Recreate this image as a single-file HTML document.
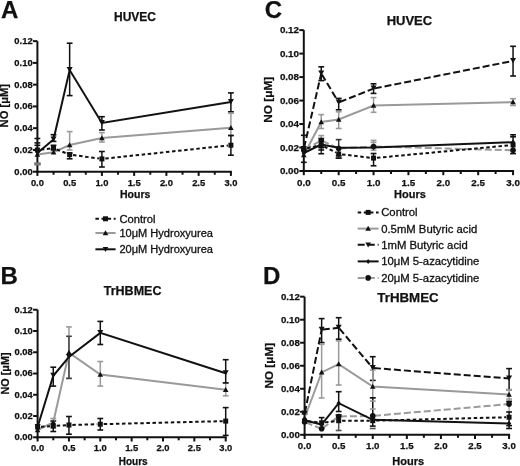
<!DOCTYPE html>
<html><head><meta charset="utf-8"><style>
html,body{margin:0;padding:0;background:#fff;}
body{width:520px;height:466px;overflow:hidden;}
svg{display:block;will-change:transform;}
text{font-family:"Liberation Sans", sans-serif;fill:#111;stroke:#111;stroke-width:0.25px;}
text.r{stroke-width:0.3px;}
</style></head><body>
<svg width="520" height="466" viewBox="0 0 520 466">
<rect width="520" height="466" fill="#fff"/>
<line x1="37.4" y1="41.14" x2="37.4" y2="172.7" stroke="#111" stroke-width="2" stroke-linecap="butt"/>
<line x1="36.4" y1="171.7" x2="231.9" y2="171.7" stroke="#111" stroke-width="2" stroke-linecap="butt"/>
<line x1="32.9" y1="171.7" x2="37.4" y2="171.7" stroke="#111" stroke-width="2" stroke-linecap="butt"/>
<text x="32.6" y="174.61" font-size="9.4" font-weight="bold" text-anchor="end">0.00</text>
<line x1="32.9" y1="149.94" x2="37.4" y2="149.94" stroke="#111" stroke-width="2" stroke-linecap="butt"/>
<text x="32.6" y="152.85" font-size="9.4" font-weight="bold" text-anchor="end">0.02</text>
<line x1="32.9" y1="128.18" x2="37.4" y2="128.18" stroke="#111" stroke-width="2" stroke-linecap="butt"/>
<text x="32.6" y="131.09" font-size="9.4" font-weight="bold" text-anchor="end">0.04</text>
<line x1="32.9" y1="106.42" x2="37.4" y2="106.42" stroke="#111" stroke-width="2" stroke-linecap="butt"/>
<text x="32.6" y="109.33" font-size="9.4" font-weight="bold" text-anchor="end">0.06</text>
<line x1="32.9" y1="84.66" x2="37.4" y2="84.66" stroke="#111" stroke-width="2" stroke-linecap="butt"/>
<text x="32.6" y="87.57" font-size="9.4" font-weight="bold" text-anchor="end">0.08</text>
<line x1="32.9" y1="62.9" x2="37.4" y2="62.9" stroke="#111" stroke-width="2" stroke-linecap="butt"/>
<text x="32.6" y="65.81" font-size="9.4" font-weight="bold" text-anchor="end">0.10</text>
<line x1="32.9" y1="41.14" x2="37.4" y2="41.14" stroke="#111" stroke-width="2" stroke-linecap="butt"/>
<text x="32.6" y="44.05" font-size="9.4" font-weight="bold" text-anchor="end">0.12</text>
<line x1="37.4" y1="171.7" x2="37.4" y2="175.9" stroke="#111" stroke-width="2" stroke-linecap="butt"/>
<text x="37.4" y="186" font-size="9.4" font-weight="bold" text-anchor="middle">0.0</text>
<line x1="53.52" y1="171.7" x2="53.52" y2="174.7" stroke="#111" stroke-width="2" stroke-linecap="butt"/>
<line x1="69.65" y1="171.7" x2="69.65" y2="175.9" stroke="#111" stroke-width="2" stroke-linecap="butt"/>
<text x="69.65" y="186" font-size="9.4" font-weight="bold" text-anchor="middle">0.5</text>
<line x1="85.78" y1="171.7" x2="85.78" y2="174.7" stroke="#111" stroke-width="2" stroke-linecap="butt"/>
<line x1="101.9" y1="171.7" x2="101.9" y2="175.9" stroke="#111" stroke-width="2" stroke-linecap="butt"/>
<text x="101.9" y="186" font-size="9.4" font-weight="bold" text-anchor="middle">1.0</text>
<line x1="118.03" y1="171.7" x2="118.03" y2="174.7" stroke="#111" stroke-width="2" stroke-linecap="butt"/>
<line x1="134.15" y1="171.7" x2="134.15" y2="175.9" stroke="#111" stroke-width="2" stroke-linecap="butt"/>
<text x="134.15" y="186" font-size="9.4" font-weight="bold" text-anchor="middle">1.5</text>
<line x1="150.28" y1="171.7" x2="150.28" y2="174.7" stroke="#111" stroke-width="2" stroke-linecap="butt"/>
<line x1="166.4" y1="171.7" x2="166.4" y2="175.9" stroke="#111" stroke-width="2" stroke-linecap="butt"/>
<text x="166.4" y="186" font-size="9.4" font-weight="bold" text-anchor="middle">2.0</text>
<line x1="182.53" y1="171.7" x2="182.53" y2="174.7" stroke="#111" stroke-width="2" stroke-linecap="butt"/>
<line x1="198.65" y1="171.7" x2="198.65" y2="175.9" stroke="#111" stroke-width="2" stroke-linecap="butt"/>
<text x="198.65" y="186" font-size="9.4" font-weight="bold" text-anchor="middle">2.5</text>
<line x1="214.78" y1="171.7" x2="214.78" y2="174.7" stroke="#111" stroke-width="2" stroke-linecap="butt"/>
<line x1="230.9" y1="171.7" x2="230.9" y2="175.9" stroke="#111" stroke-width="2" stroke-linecap="butt"/>
<text x="230.9" y="186" font-size="9.4" font-weight="bold" text-anchor="middle">3.0</text>
<text x="135.2" y="197.8" font-size="10.5" font-weight="bold" text-anchor="middle">Hours</text>
<text transform="translate(8,105.7) rotate(-90)" font-size="11.2" font-weight="bold" text-anchor="middle">NO [&#956;M]</text>
<text x="135" y="21.2" font-size="12" font-weight="bold" text-anchor="middle">HUVEC</text>
<line x1="69.65" y1="43.2" x2="69.65" y2="95.6" stroke="#111" stroke-width="1.5" stroke-linecap="butt"/>
<line x1="66.75" y1="43.2" x2="72.55" y2="43.2" stroke="#111" stroke-width="1.6" stroke-linecap="butt"/>
<line x1="66.75" y1="95.6" x2="72.55" y2="95.6" stroke="#111" stroke-width="1.6" stroke-linecap="butt"/>
<line x1="101.9" y1="116.7" x2="101.9" y2="130" stroke="#111" stroke-width="1.5" stroke-linecap="butt"/>
<line x1="99" y1="116.7" x2="104.8" y2="116.7" stroke="#111" stroke-width="1.6" stroke-linecap="butt"/>
<line x1="99" y1="130" x2="104.8" y2="130" stroke="#111" stroke-width="1.6" stroke-linecap="butt"/>
<line x1="230.9" y1="92.9" x2="230.9" y2="111.8" stroke="#111" stroke-width="1.5" stroke-linecap="butt"/>
<line x1="228" y1="92.9" x2="233.8" y2="92.9" stroke="#111" stroke-width="1.6" stroke-linecap="butt"/>
<line x1="228" y1="111.8" x2="233.8" y2="111.8" stroke="#111" stroke-width="1.6" stroke-linecap="butt"/>
<line x1="69.65" y1="131.6" x2="69.65" y2="150" stroke="#9a9a9a" stroke-width="1.5" stroke-linecap="butt"/>
<line x1="66.75" y1="131.6" x2="72.55" y2="131.6" stroke="#9a9a9a" stroke-width="1.6" stroke-linecap="butt"/>
<line x1="66.75" y1="150" x2="72.55" y2="150" stroke="#9a9a9a" stroke-width="1.6" stroke-linecap="butt"/>
<line x1="101.9" y1="132.6" x2="101.9" y2="142" stroke="#9a9a9a" stroke-width="1.5" stroke-linecap="butt"/>
<line x1="99" y1="132.6" x2="104.8" y2="132.6" stroke="#9a9a9a" stroke-width="1.6" stroke-linecap="butt"/>
<line x1="99" y1="142" x2="104.8" y2="142" stroke="#9a9a9a" stroke-width="1.6" stroke-linecap="butt"/>
<line x1="230.9" y1="113.3" x2="230.9" y2="135.8" stroke="#9a9a9a" stroke-width="1.5" stroke-linecap="butt"/>
<line x1="228" y1="113.3" x2="233.8" y2="113.3" stroke="#9a9a9a" stroke-width="1.6" stroke-linecap="butt"/>
<line x1="228" y1="135.8" x2="233.8" y2="135.8" stroke="#9a9a9a" stroke-width="1.6" stroke-linecap="butt"/>
<line x1="101.9" y1="151.5" x2="101.9" y2="167" stroke="#111" stroke-width="1.5" stroke-linecap="butt"/>
<line x1="99" y1="151.5" x2="104.8" y2="151.5" stroke="#111" stroke-width="1.6" stroke-linecap="butt"/>
<line x1="99" y1="167" x2="104.8" y2="167" stroke="#111" stroke-width="1.6" stroke-linecap="butt"/>
<line x1="230.9" y1="135.4" x2="230.9" y2="155.2" stroke="#111" stroke-width="1.5" stroke-linecap="butt"/>
<line x1="228" y1="135.4" x2="233.8" y2="135.4" stroke="#111" stroke-width="1.6" stroke-linecap="butt"/>
<line x1="228" y1="155.2" x2="233.8" y2="155.2" stroke="#111" stroke-width="1.6" stroke-linecap="butt"/>
<line x1="69.65" y1="153" x2="69.65" y2="158.8" stroke="#111" stroke-width="1.5" stroke-linecap="butt"/>
<line x1="66.75" y1="153" x2="72.55" y2="153" stroke="#111" stroke-width="1.6" stroke-linecap="butt"/>
<line x1="66.75" y1="158.8" x2="72.55" y2="158.8" stroke="#111" stroke-width="1.6" stroke-linecap="butt"/>
<line x1="53.52" y1="134.7" x2="53.52" y2="141.4" stroke="#111" stroke-width="1.5" stroke-linecap="butt"/>
<line x1="50.62" y1="134.7" x2="56.42" y2="134.7" stroke="#111" stroke-width="1.6" stroke-linecap="butt"/>
<line x1="50.62" y1="141.4" x2="56.42" y2="141.4" stroke="#111" stroke-width="1.6" stroke-linecap="butt"/>
<line x1="53.52" y1="145.3" x2="53.52" y2="149.6" stroke="#111" stroke-width="1.5" stroke-linecap="butt"/>
<line x1="50.62" y1="145.3" x2="56.42" y2="145.3" stroke="#111" stroke-width="1.6" stroke-linecap="butt"/>
<line x1="50.62" y1="149.6" x2="56.42" y2="149.6" stroke="#111" stroke-width="1.6" stroke-linecap="butt"/>
<line x1="34.5" y1="138.5" x2="40.3" y2="138.5" stroke="#111" stroke-width="1.6" stroke-linecap="butt"/>
<line x1="34.5" y1="142.9" x2="40.3" y2="142.9" stroke="#111" stroke-width="1.6" stroke-linecap="butt"/>
<line x1="34.5" y1="145.3" x2="40.3" y2="145.3" stroke="#111" stroke-width="1.6" stroke-linecap="butt"/>
<rect x="34.2" y="162.3" width="6.6" height="3.2" fill="#777"/>
<polyline points="37.4,154.5 53.52,152.2 69.65,145 101.9,138 230.9,127.7" fill="none" stroke="#9a9a9a" stroke-width="2" stroke-linejoin="miter"/>
<polygon points="37.4,151.7 40.2,156.7 34.6,156.7" fill="#111"/>
<polygon points="53.52,149.4 56.32,154.4 50.73,154.4" fill="#111"/>
<polygon points="69.65,142.2 72.45,147.2 66.85,147.2" fill="#111"/>
<polygon points="101.9,135.2 104.7,140.2 99.1,140.2" fill="#111"/>
<polygon points="230.9,124.9 233.7,129.9 228.1,129.9" fill="#111"/>
<line x1="40.78" y1="149.62" x2="50.54" y2="148.53" stroke="#111" stroke-width="2" stroke-linecap="butt" stroke-dasharray="3.5 2.6"/>
<line x1="56.69" y1="149.45" x2="66.86" y2="153.49" stroke="#111" stroke-width="2" stroke-linecap="butt" stroke-dasharray="3.5 2.6"/>
<line x1="73.02" y1="155.05" x2="98.93" y2="158.5" stroke="#111" stroke-width="2" stroke-linecap="butt" stroke-dasharray="3.5 2.6"/>
<line x1="105.28" y1="158.54" x2="227.92" y2="145.52" stroke="#111" stroke-width="2" stroke-linecap="butt" stroke-dasharray="3.5 2.6"/>
<rect x="34.9" y="147.5" width="5" height="5" fill="#111"/>
<rect x="51.02" y="145.7" width="5" height="5" fill="#111"/>
<rect x="67.15" y="152.1" width="5" height="5" fill="#111"/>
<rect x="99.4" y="156.4" width="5" height="5" fill="#111"/>
<rect x="228.4" y="142.7" width="5" height="5" fill="#111"/>
<polyline points="37.4,153 53.52,139.5 69.65,70 101.9,123 230.9,102" fill="none" stroke="#111" stroke-width="2" stroke-linejoin="miter"/>
<polygon points="37.4,155.4 40.4,150 34.4,150" fill="#111"/>
<polygon points="53.52,141.9 56.52,136.5 50.52,136.5" fill="#111"/>
<polygon points="69.65,72.4 72.65,67 66.65,67" fill="#111"/>
<polygon points="101.9,125.4 104.9,120 98.9,120" fill="#111"/>
<polygon points="230.9,104.4 233.9,99 227.9,99" fill="#111"/>
<line x1="37.6" y1="309.74" x2="37.6" y2="438.3" stroke="#111" stroke-width="2" stroke-linecap="butt"/>
<line x1="36.6" y1="437.3" x2="226.7" y2="437.3" stroke="#111" stroke-width="2" stroke-linecap="butt"/>
<line x1="33.1" y1="437.3" x2="37.6" y2="437.3" stroke="#111" stroke-width="2" stroke-linecap="butt"/>
<text x="32.8" y="440.21" font-size="9.4" font-weight="bold" text-anchor="end">0.00</text>
<line x1="33.1" y1="416.04" x2="37.6" y2="416.04" stroke="#111" stroke-width="2" stroke-linecap="butt"/>
<text x="32.8" y="418.95" font-size="9.4" font-weight="bold" text-anchor="end">0.02</text>
<line x1="33.1" y1="394.78" x2="37.6" y2="394.78" stroke="#111" stroke-width="2" stroke-linecap="butt"/>
<text x="32.8" y="397.69" font-size="9.4" font-weight="bold" text-anchor="end">0.04</text>
<line x1="33.1" y1="373.52" x2="37.6" y2="373.52" stroke="#111" stroke-width="2" stroke-linecap="butt"/>
<text x="32.8" y="376.43" font-size="9.4" font-weight="bold" text-anchor="end">0.06</text>
<line x1="33.1" y1="352.26" x2="37.6" y2="352.26" stroke="#111" stroke-width="2" stroke-linecap="butt"/>
<text x="32.8" y="355.17" font-size="9.4" font-weight="bold" text-anchor="end">0.08</text>
<line x1="33.1" y1="331" x2="37.6" y2="331" stroke="#111" stroke-width="2" stroke-linecap="butt"/>
<text x="32.8" y="333.91" font-size="9.4" font-weight="bold" text-anchor="end">0.10</text>
<line x1="33.1" y1="309.74" x2="37.6" y2="309.74" stroke="#111" stroke-width="2" stroke-linecap="butt"/>
<text x="32.8" y="312.65" font-size="9.4" font-weight="bold" text-anchor="end">0.12</text>
<line x1="37.6" y1="437.3" x2="37.6" y2="441.5" stroke="#111" stroke-width="2" stroke-linecap="butt"/>
<text x="37.6" y="451.1" font-size="9.4" font-weight="bold" text-anchor="middle">0.0</text>
<line x1="53.28" y1="437.3" x2="53.28" y2="440.3" stroke="#111" stroke-width="2" stroke-linecap="butt"/>
<line x1="68.95" y1="437.3" x2="68.95" y2="441.5" stroke="#111" stroke-width="2" stroke-linecap="butt"/>
<text x="68.95" y="451.1" font-size="9.4" font-weight="bold" text-anchor="middle">0.5</text>
<line x1="84.62" y1="437.3" x2="84.62" y2="440.3" stroke="#111" stroke-width="2" stroke-linecap="butt"/>
<line x1="100.3" y1="437.3" x2="100.3" y2="441.5" stroke="#111" stroke-width="2" stroke-linecap="butt"/>
<text x="100.3" y="451.1" font-size="9.4" font-weight="bold" text-anchor="middle">1.0</text>
<line x1="115.97" y1="437.3" x2="115.97" y2="440.3" stroke="#111" stroke-width="2" stroke-linecap="butt"/>
<line x1="131.65" y1="437.3" x2="131.65" y2="441.5" stroke="#111" stroke-width="2" stroke-linecap="butt"/>
<text x="131.65" y="451.1" font-size="9.4" font-weight="bold" text-anchor="middle">1.5</text>
<line x1="147.33" y1="437.3" x2="147.33" y2="440.3" stroke="#111" stroke-width="2" stroke-linecap="butt"/>
<line x1="163" y1="437.3" x2="163" y2="441.5" stroke="#111" stroke-width="2" stroke-linecap="butt"/>
<text x="163" y="451.1" font-size="9.4" font-weight="bold" text-anchor="middle">2.0</text>
<line x1="178.68" y1="437.3" x2="178.68" y2="440.3" stroke="#111" stroke-width="2" stroke-linecap="butt"/>
<line x1="194.35" y1="437.3" x2="194.35" y2="441.5" stroke="#111" stroke-width="2" stroke-linecap="butt"/>
<text x="194.35" y="451.1" font-size="9.4" font-weight="bold" text-anchor="middle">2.5</text>
<line x1="210.03" y1="437.3" x2="210.03" y2="440.3" stroke="#111" stroke-width="2" stroke-linecap="butt"/>
<line x1="225.7" y1="437.3" x2="225.7" y2="441.5" stroke="#111" stroke-width="2" stroke-linecap="butt"/>
<text x="225.7" y="451.1" font-size="9.4" font-weight="bold" text-anchor="middle">3.0</text>
<text x="133.2" y="465.4" font-size="10" font-weight="bold" text-anchor="middle">Hours</text>
<text transform="translate(9.3,373.5) rotate(-90)" font-size="10.8" font-weight="bold" text-anchor="middle">NO [&#956;M]</text>
<text x="132.6" y="295.2" font-size="12.5" font-weight="bold" text-anchor="middle">TrHBMEC</text>
<line x1="68.95" y1="326.9" x2="68.95" y2="378.4" stroke="#9a9a9a" stroke-width="1.5" stroke-linecap="butt"/>
<line x1="66.05" y1="326.9" x2="71.85" y2="326.9" stroke="#9a9a9a" stroke-width="1.6" stroke-linecap="butt"/>
<line x1="66.05" y1="378.4" x2="71.85" y2="378.4" stroke="#9a9a9a" stroke-width="1.6" stroke-linecap="butt"/>
<line x1="100.3" y1="361.5" x2="100.3" y2="386.1" stroke="#9a9a9a" stroke-width="1.5" stroke-linecap="butt"/>
<line x1="97.4" y1="361.5" x2="103.2" y2="361.5" stroke="#9a9a9a" stroke-width="1.6" stroke-linecap="butt"/>
<line x1="97.4" y1="386.1" x2="103.2" y2="386.1" stroke="#9a9a9a" stroke-width="1.6" stroke-linecap="butt"/>
<line x1="225.7" y1="382.9" x2="225.7" y2="395.8" stroke="#9a9a9a" stroke-width="1.5" stroke-linecap="butt"/>
<line x1="222.8" y1="382.9" x2="228.6" y2="382.9" stroke="#9a9a9a" stroke-width="1.6" stroke-linecap="butt"/>
<line x1="222.8" y1="395.8" x2="228.6" y2="395.8" stroke="#9a9a9a" stroke-width="1.6" stroke-linecap="butt"/>
<line x1="53.28" y1="418.5" x2="53.28" y2="428" stroke="#9a9a9a" stroke-width="1.5" stroke-linecap="butt"/>
<line x1="50.38" y1="418.5" x2="56.18" y2="418.5" stroke="#9a9a9a" stroke-width="1.6" stroke-linecap="butt"/>
<line x1="50.38" y1="428" x2="56.18" y2="428" stroke="#9a9a9a" stroke-width="1.6" stroke-linecap="butt"/>
<line x1="53.28" y1="367.2" x2="53.28" y2="386.1" stroke="#111" stroke-width="1.5" stroke-linecap="butt"/>
<line x1="50.38" y1="367.2" x2="56.18" y2="367.2" stroke="#111" stroke-width="1.6" stroke-linecap="butt"/>
<line x1="50.38" y1="386.1" x2="56.18" y2="386.1" stroke="#111" stroke-width="1.6" stroke-linecap="butt"/>
<line x1="68.95" y1="336.3" x2="68.95" y2="378.4" stroke="#444" stroke-width="1.5" stroke-linecap="butt"/>
<line x1="66.05" y1="336.3" x2="71.85" y2="336.3" stroke="#444" stroke-width="1.6" stroke-linecap="butt"/>
<line x1="66.05" y1="378.4" x2="71.85" y2="378.4" stroke="#444" stroke-width="1.6" stroke-linecap="butt"/>
<line x1="100.3" y1="321.4" x2="100.3" y2="344.5" stroke="#111" stroke-width="1.5" stroke-linecap="butt"/>
<line x1="97.4" y1="321.4" x2="103.2" y2="321.4" stroke="#111" stroke-width="1.6" stroke-linecap="butt"/>
<line x1="97.4" y1="344.5" x2="103.2" y2="344.5" stroke="#111" stroke-width="1.6" stroke-linecap="butt"/>
<line x1="225.7" y1="359.7" x2="225.7" y2="382.9" stroke="#111" stroke-width="1.5" stroke-linecap="butt"/>
<line x1="222.8" y1="359.7" x2="228.6" y2="359.7" stroke="#111" stroke-width="1.6" stroke-linecap="butt"/>
<line x1="222.8" y1="382.9" x2="228.6" y2="382.9" stroke="#111" stroke-width="1.6" stroke-linecap="butt"/>
<line x1="68.95" y1="416.5" x2="68.95" y2="434.2" stroke="#111" stroke-width="1.5" stroke-linecap="butt"/>
<line x1="66.05" y1="416.5" x2="71.85" y2="416.5" stroke="#111" stroke-width="1.6" stroke-linecap="butt"/>
<line x1="66.05" y1="434.2" x2="71.85" y2="434.2" stroke="#111" stroke-width="1.6" stroke-linecap="butt"/>
<line x1="100.3" y1="418.5" x2="100.3" y2="430" stroke="#111" stroke-width="1.5" stroke-linecap="butt"/>
<line x1="97.4" y1="418.5" x2="103.2" y2="418.5" stroke="#111" stroke-width="1.6" stroke-linecap="butt"/>
<line x1="97.4" y1="430" x2="103.2" y2="430" stroke="#111" stroke-width="1.6" stroke-linecap="butt"/>
<line x1="225.7" y1="407.6" x2="225.7" y2="435.4" stroke="#111" stroke-width="1.5" stroke-linecap="butt"/>
<line x1="222.8" y1="407.6" x2="228.6" y2="407.6" stroke="#111" stroke-width="1.6" stroke-linecap="butt"/>
<line x1="222.8" y1="435.4" x2="228.6" y2="435.4" stroke="#111" stroke-width="1.6" stroke-linecap="butt"/>
<line x1="53.28" y1="421" x2="53.28" y2="431.5" stroke="#111" stroke-width="1.5" stroke-linecap="butt"/>
<line x1="50.38" y1="421" x2="56.18" y2="421" stroke="#111" stroke-width="1.6" stroke-linecap="butt"/>
<line x1="50.38" y1="431.5" x2="56.18" y2="431.5" stroke="#111" stroke-width="1.6" stroke-linecap="butt"/>
<polyline points="37.6,430 53.28,422.3 68.95,352.6 100.3,374.6 225.7,389.8" fill="none" stroke="#9a9a9a" stroke-width="2" stroke-linejoin="miter"/>
<polygon points="37.6,427.2 40.4,432.2 34.8,432.2" fill="#111"/>
<polygon points="53.28,419.5 56.08,424.5 50.48,424.5" fill="#111"/>
<polygon points="68.95,349.8 71.75,354.8 66.15,354.8" fill="#111"/>
<polygon points="100.3,371.8 103.1,376.8 97.5,376.8" fill="#111"/>
<polygon points="225.7,387 228.5,392 222.9,392" fill="#111"/>
<line x1="40.99" y1="426.78" x2="50.28" y2="426.19" stroke="#111" stroke-width="2" stroke-linecap="butt" stroke-dasharray="3.5 2.6"/>
<line x1="56.67" y1="425.78" x2="65.96" y2="425.19" stroke="#111" stroke-width="2" stroke-linecap="butt" stroke-dasharray="3.5 2.6"/>
<line x1="72.35" y1="424.91" x2="97.3" y2="424.28" stroke="#111" stroke-width="2" stroke-linecap="butt" stroke-dasharray="3.5 2.6"/>
<line x1="103.7" y1="424.12" x2="222.7" y2="421.17" stroke="#111" stroke-width="2" stroke-linecap="butt" stroke-dasharray="3.5 2.6"/>
<rect x="35.1" y="424.5" width="5" height="5" fill="#111"/>
<rect x="50.78" y="423.5" width="5" height="5" fill="#111"/>
<rect x="66.45" y="422.5" width="5" height="5" fill="#111"/>
<rect x="97.8" y="421.7" width="5" height="5" fill="#111"/>
<rect x="223.2" y="418.6" width="5" height="5" fill="#111"/>
<polyline points="37.6,427 53.28,375.8 68.95,356.9 100.3,332.9 225.7,373.2" fill="none" stroke="#111" stroke-width="2" stroke-linejoin="miter"/>
<polygon points="37.6,429.4 40.6,424 34.6,424" fill="#111"/>
<polygon points="53.28,378.2 56.28,372.8 50.28,372.8" fill="#111"/>
<polygon points="68.95,359.3 71.95,353.9 65.95,353.9" fill="#111"/>
<polygon points="100.3,335.3 103.3,329.9 97.3,329.9" fill="#111"/>
<polygon points="225.7,375.6 228.7,370.2 222.7,370.2" fill="#111"/>
<line x1="303.8" y1="30.12" x2="303.8" y2="172" stroke="#111" stroke-width="2" stroke-linecap="butt"/>
<line x1="302.8" y1="171" x2="514.05" y2="171" stroke="#111" stroke-width="2" stroke-linecap="butt"/>
<line x1="299.3" y1="171" x2="303.8" y2="171" stroke="#111" stroke-width="2" stroke-linecap="butt"/>
<text x="299" y="174.04" font-size="9.8" font-weight="bold" text-anchor="end">0.00</text>
<line x1="299.3" y1="147.52" x2="303.8" y2="147.52" stroke="#111" stroke-width="2" stroke-linecap="butt"/>
<text x="299" y="150.56" font-size="9.8" font-weight="bold" text-anchor="end">0.02</text>
<line x1="299.3" y1="124.04" x2="303.8" y2="124.04" stroke="#111" stroke-width="2" stroke-linecap="butt"/>
<text x="299" y="127.08" font-size="9.8" font-weight="bold" text-anchor="end">0.04</text>
<line x1="299.3" y1="100.56" x2="303.8" y2="100.56" stroke="#111" stroke-width="2" stroke-linecap="butt"/>
<text x="299" y="103.6" font-size="9.8" font-weight="bold" text-anchor="end">0.06</text>
<line x1="299.3" y1="77.08" x2="303.8" y2="77.08" stroke="#111" stroke-width="2" stroke-linecap="butt"/>
<text x="299" y="80.12" font-size="9.8" font-weight="bold" text-anchor="end">0.08</text>
<line x1="299.3" y1="53.6" x2="303.8" y2="53.6" stroke="#111" stroke-width="2" stroke-linecap="butt"/>
<text x="299" y="56.64" font-size="9.8" font-weight="bold" text-anchor="end">0.10</text>
<line x1="299.3" y1="30.12" x2="303.8" y2="30.12" stroke="#111" stroke-width="2" stroke-linecap="butt"/>
<text x="299" y="33.16" font-size="9.8" font-weight="bold" text-anchor="end">0.12</text>
<line x1="303.8" y1="171" x2="303.8" y2="175.2" stroke="#111" stroke-width="2" stroke-linecap="butt"/>
<text x="303.8" y="186.1" font-size="9.8" font-weight="bold" text-anchor="middle">0.0</text>
<line x1="321.24" y1="171" x2="321.24" y2="174" stroke="#111" stroke-width="2" stroke-linecap="butt"/>
<line x1="338.68" y1="171" x2="338.68" y2="175.2" stroke="#111" stroke-width="2" stroke-linecap="butt"/>
<text x="338.68" y="186.1" font-size="9.8" font-weight="bold" text-anchor="middle">0.5</text>
<line x1="356.11" y1="171" x2="356.11" y2="174" stroke="#111" stroke-width="2" stroke-linecap="butt"/>
<line x1="373.55" y1="171" x2="373.55" y2="175.2" stroke="#111" stroke-width="2" stroke-linecap="butt"/>
<text x="373.55" y="186.1" font-size="9.8" font-weight="bold" text-anchor="middle">1.0</text>
<line x1="390.99" y1="171" x2="390.99" y2="174" stroke="#111" stroke-width="2" stroke-linecap="butt"/>
<line x1="408.43" y1="171" x2="408.43" y2="175.2" stroke="#111" stroke-width="2" stroke-linecap="butt"/>
<text x="408.43" y="186.1" font-size="9.8" font-weight="bold" text-anchor="middle">1.5</text>
<line x1="425.86" y1="171" x2="425.86" y2="174" stroke="#111" stroke-width="2" stroke-linecap="butt"/>
<line x1="443.3" y1="171" x2="443.3" y2="175.2" stroke="#111" stroke-width="2" stroke-linecap="butt"/>
<text x="443.3" y="186.1" font-size="9.8" font-weight="bold" text-anchor="middle">2.0</text>
<line x1="460.74" y1="171" x2="460.74" y2="174" stroke="#111" stroke-width="2" stroke-linecap="butt"/>
<line x1="478.18" y1="171" x2="478.18" y2="175.2" stroke="#111" stroke-width="2" stroke-linecap="butt"/>
<text x="478.18" y="186.1" font-size="9.8" font-weight="bold" text-anchor="middle">2.5</text>
<line x1="495.61" y1="171" x2="495.61" y2="174" stroke="#111" stroke-width="2" stroke-linecap="butt"/>
<line x1="513.05" y1="171" x2="513.05" y2="175.2" stroke="#111" stroke-width="2" stroke-linecap="butt"/>
<text x="513.05" y="186.1" font-size="9.8" font-weight="bold" text-anchor="middle">3.0</text>
<text x="410" y="197.8" font-size="11" font-weight="bold" text-anchor="middle">Hours</text>
<text transform="translate(271.6,99.8) rotate(-90)" font-size="11.8" font-weight="bold" text-anchor="middle">NO [&#956;M]</text>
<text x="409.4" y="24.6" font-size="13" font-weight="bold" text-anchor="middle">HUVEC</text>
<line x1="321.24" y1="66.8" x2="321.24" y2="80.6" stroke="#111" stroke-width="1.5" stroke-linecap="butt"/>
<line x1="318.34" y1="66.8" x2="324.14" y2="66.8" stroke="#111" stroke-width="1.6" stroke-linecap="butt"/>
<line x1="318.34" y1="80.6" x2="324.14" y2="80.6" stroke="#111" stroke-width="1.6" stroke-linecap="butt"/>
<line x1="338.68" y1="98.4" x2="338.68" y2="109.8" stroke="#111" stroke-width="1.5" stroke-linecap="butt"/>
<line x1="335.78" y1="98.4" x2="341.57" y2="98.4" stroke="#111" stroke-width="1.6" stroke-linecap="butt"/>
<line x1="335.78" y1="109.8" x2="341.57" y2="109.8" stroke="#111" stroke-width="1.6" stroke-linecap="butt"/>
<line x1="373.55" y1="83.8" x2="373.55" y2="93.4" stroke="#111" stroke-width="1.5" stroke-linecap="butt"/>
<line x1="370.65" y1="83.8" x2="376.45" y2="83.8" stroke="#111" stroke-width="1.6" stroke-linecap="butt"/>
<line x1="370.65" y1="93.4" x2="376.45" y2="93.4" stroke="#111" stroke-width="1.6" stroke-linecap="butt"/>
<line x1="513.05" y1="46.3" x2="513.05" y2="76" stroke="#111" stroke-width="1.5" stroke-linecap="butt"/>
<line x1="510.15" y1="46.3" x2="515.95" y2="46.3" stroke="#111" stroke-width="1.6" stroke-linecap="butt"/>
<line x1="510.15" y1="76" x2="515.95" y2="76" stroke="#111" stroke-width="1.6" stroke-linecap="butt"/>
<line x1="321.24" y1="114.6" x2="321.24" y2="128.5" stroke="#9a9a9a" stroke-width="1.5" stroke-linecap="butt"/>
<line x1="318.34" y1="114.6" x2="324.14" y2="114.6" stroke="#9a9a9a" stroke-width="1.6" stroke-linecap="butt"/>
<line x1="318.34" y1="128.5" x2="324.14" y2="128.5" stroke="#9a9a9a" stroke-width="1.6" stroke-linecap="butt"/>
<line x1="338.68" y1="111.8" x2="338.68" y2="128.5" stroke="#9a9a9a" stroke-width="1.5" stroke-linecap="butt"/>
<line x1="335.78" y1="111.8" x2="341.57" y2="111.8" stroke="#9a9a9a" stroke-width="1.6" stroke-linecap="butt"/>
<line x1="335.78" y1="128.5" x2="341.57" y2="128.5" stroke="#9a9a9a" stroke-width="1.6" stroke-linecap="butt"/>
<line x1="373.55" y1="97.6" x2="373.55" y2="112.3" stroke="#9a9a9a" stroke-width="1.5" stroke-linecap="butt"/>
<line x1="370.65" y1="97.6" x2="376.45" y2="97.6" stroke="#9a9a9a" stroke-width="1.6" stroke-linecap="butt"/>
<line x1="370.65" y1="112.3" x2="376.45" y2="112.3" stroke="#9a9a9a" stroke-width="1.6" stroke-linecap="butt"/>
<line x1="513.05" y1="98.7" x2="513.05" y2="105.5" stroke="#9a9a9a" stroke-width="1.5" stroke-linecap="butt"/>
<line x1="510.15" y1="98.7" x2="515.95" y2="98.7" stroke="#9a9a9a" stroke-width="1.6" stroke-linecap="butt"/>
<line x1="510.15" y1="105.5" x2="515.95" y2="105.5" stroke="#9a9a9a" stroke-width="1.6" stroke-linecap="butt"/>
<line x1="321.24" y1="135.6" x2="321.24" y2="145" stroke="#9a9a9a" stroke-width="1.5" stroke-linecap="butt"/>
<line x1="318.34" y1="135.6" x2="324.14" y2="135.6" stroke="#9a9a9a" stroke-width="1.6" stroke-linecap="butt"/>
<line x1="318.34" y1="145" x2="324.14" y2="145" stroke="#9a9a9a" stroke-width="1.6" stroke-linecap="butt"/>
<line x1="321.24" y1="141" x2="321.24" y2="153.7" stroke="#111" stroke-width="1.3" stroke-linecap="butt"/>
<line x1="318.34" y1="147.7" x2="324.14" y2="147.7" stroke="#111" stroke-width="1.6" stroke-linecap="butt"/>
<line x1="318.34" y1="150" x2="324.14" y2="150" stroke="#111" stroke-width="1.6" stroke-linecap="butt"/>
<line x1="318.34" y1="153.7" x2="324.14" y2="153.7" stroke="#111" stroke-width="1.6" stroke-linecap="butt"/>
<line x1="338.68" y1="139.6" x2="338.68" y2="158.2" stroke="#333" stroke-width="1.5" stroke-linecap="butt"/>
<line x1="335.78" y1="139.6" x2="341.57" y2="139.6" stroke="#333" stroke-width="1.6" stroke-linecap="butt"/>
<line x1="335.78" y1="158.2" x2="341.57" y2="158.2" stroke="#333" stroke-width="1.6" stroke-linecap="butt"/>
<line x1="335.78" y1="155.8" x2="341.57" y2="155.8" stroke="#111" stroke-width="1.6" stroke-linecap="butt"/>
<line x1="335.78" y1="158.2" x2="341.57" y2="158.2" stroke="#111" stroke-width="1.6" stroke-linecap="butt"/>
<line x1="373.55" y1="140.4" x2="373.55" y2="150.3" stroke="#9a9a9a" stroke-width="1.5" stroke-linecap="butt"/>
<line x1="370.65" y1="140.4" x2="376.45" y2="140.4" stroke="#9a9a9a" stroke-width="1.6" stroke-linecap="butt"/>
<line x1="370.65" y1="150.3" x2="376.45" y2="150.3" stroke="#9a9a9a" stroke-width="1.6" stroke-linecap="butt"/>
<line x1="370.65" y1="142.4" x2="376.45" y2="142.4" stroke="#9a9a9a" stroke-width="1.6" stroke-linecap="butt"/>
<line x1="373.55" y1="153.5" x2="373.55" y2="165.8" stroke="#111" stroke-width="1.5" stroke-linecap="butt"/>
<line x1="370.65" y1="153.5" x2="376.45" y2="153.5" stroke="#111" stroke-width="1.6" stroke-linecap="butt"/>
<line x1="370.65" y1="165.8" x2="376.45" y2="165.8" stroke="#111" stroke-width="1.6" stroke-linecap="butt"/>
<line x1="513.05" y1="134.8" x2="513.05" y2="153.6" stroke="#111" stroke-width="1.5" stroke-linecap="butt"/>
<line x1="510.15" y1="134.8" x2="515.95" y2="134.8" stroke="#111" stroke-width="1.6" stroke-linecap="butt"/>
<line x1="510.15" y1="153.6" x2="515.95" y2="153.6" stroke="#111" stroke-width="1.6" stroke-linecap="butt"/>
<line x1="510.15" y1="136.8" x2="515.95" y2="136.8" stroke="#111" stroke-width="1.6" stroke-linecap="butt"/>
<line x1="300.9" y1="135.3" x2="306.7" y2="135.3" stroke="#111" stroke-width="1.6" stroke-linecap="butt"/>
<line x1="300.9" y1="162.3" x2="306.7" y2="162.3" stroke="#111" stroke-width="1.6" stroke-linecap="butt"/>
<line x1="304.85" y1="149.43" x2="321.24" y2="140.5" stroke="#9a9a9a" stroke-width="2" stroke-linecap="butt" stroke-dasharray="7 3"/>
<line x1="322.33" y1="141" x2="338.68" y2="148.5" stroke="#9a9a9a" stroke-width="2" stroke-linecap="butt" stroke-dasharray="7 3"/>
<line x1="339.87" y1="148.43" x2="373.55" y2="146.5" stroke="#9a9a9a" stroke-width="2" stroke-linecap="butt" stroke-dasharray="7 3"/>
<line x1="374.75" y1="146.53" x2="513.05" y2="150.3" stroke="#9a9a9a" stroke-width="2" stroke-linecap="butt" stroke-dasharray="7 3"/>
<polyline points="303.8,155 321.24,122 338.68,119.5 373.55,105.5 513.05,102.1" fill="none" stroke="#9a9a9a" stroke-width="2" stroke-linejoin="miter"/>
<line x1="304.07" y1="147.83" x2="321.24" y2="73.5" stroke="#111" stroke-width="2" stroke-linecap="butt" stroke-dasharray="7 3"/>
<line x1="321.86" y1="74.53" x2="338.68" y2="102.4" stroke="#111" stroke-width="2" stroke-linecap="butt" stroke-dasharray="7 3"/>
<line x1="339.79" y1="101.96" x2="373.55" y2="88.6" stroke="#111" stroke-width="2" stroke-linecap="butt" stroke-dasharray="7 3"/>
<line x1="374.73" y1="88.37" x2="513.05" y2="60.9" stroke="#111" stroke-width="2" stroke-linecap="butt" stroke-dasharray="7 3"/>
<line x1="307.11" y1="148.24" x2="318.31" y2="145.67" stroke="#111" stroke-width="2" stroke-linecap="butt" stroke-dasharray="3.5 2.6"/>
<line x1="324.26" y1="146.56" x2="336.01" y2="152.62" stroke="#111" stroke-width="2" stroke-linecap="butt" stroke-dasharray="3.5 2.6"/>
<line x1="342.05" y1="154.4" x2="370.57" y2="157.75" stroke="#111" stroke-width="2" stroke-linecap="butt" stroke-dasharray="3.5 2.6"/>
<line x1="376.94" y1="157.78" x2="510.06" y2="145.28" stroke="#111" stroke-width="2" stroke-linecap="butt" stroke-dasharray="3.5 2.6"/>
<polyline points="303.8,153 321.24,144.5 338.68,147.8 373.55,147.5 513.05,142.2" fill="none" stroke="#111" stroke-width="2" stroke-linejoin="miter"/>
<circle cx="303.8" cy="150" r="2.8" fill="#111"/>
<circle cx="321.24" cy="140.5" r="2.8" fill="#111"/>
<circle cx="338.68" cy="148.5" r="2.8" fill="#111"/>
<circle cx="373.55" cy="146.5" r="2.8" fill="#111"/>
<circle cx="513.05" cy="150.3" r="2.8" fill="#111"/>
<polygon points="303.8,152.2 306.6,157.2 301,157.2" fill="#111"/>
<polygon points="321.24,119.2 324.04,124.2 318.44,124.2" fill="#111"/>
<polygon points="338.68,116.7 341.48,121.7 335.88,121.7" fill="#111"/>
<polygon points="373.55,102.7 376.35,107.7 370.75,107.7" fill="#111"/>
<polygon points="513.05,99.3 515.85,104.3 510.25,104.3" fill="#111"/>
<polygon points="303.8,151.4 306.8,146 300.8,146" fill="#111"/>
<polygon points="321.24,75.9 324.24,70.5 318.24,70.5" fill="#111"/>
<polygon points="338.68,104.8 341.68,99.4 335.68,99.4" fill="#111"/>
<polygon points="373.55,91 376.55,85.6 370.55,85.6" fill="#111"/>
<polygon points="513.05,63.3 516.05,57.9 510.05,57.9" fill="#111"/>
<rect x="301.3" y="146.5" width="5" height="5" fill="#111"/>
<rect x="318.74" y="142.5" width="5" height="5" fill="#111"/>
<rect x="336.18" y="151.5" width="5" height="5" fill="#111"/>
<rect x="371.05" y="155.6" width="5" height="5" fill="#111"/>
<rect x="510.55" y="142.5" width="5" height="5" fill="#111"/>
<polygon points="303.8,150.25 306,153 303.8,155.75 301.6,153" fill="#111"/>
<polygon points="321.24,141.75 323.44,144.5 321.24,147.25 319.04,144.5" fill="#111"/>
<polygon points="338.68,145.05 340.88,147.8 338.68,150.55 336.48,147.8" fill="#111"/>
<polygon points="373.55,144.75 375.75,147.5 373.55,150.25 371.35,147.5" fill="#111"/>
<polygon points="513.05,139.45 515.25,142.2 513.05,144.95 510.85,142.2" fill="#111"/>
<polygon points="321.24,143.8 324.54,137.8 317.94,137.8" fill="#111"/>
<line x1="304.6" y1="296.68" x2="304.6" y2="435.8" stroke="#111" stroke-width="2" stroke-linecap="butt"/>
<line x1="303.6" y1="434.8" x2="510.08" y2="434.8" stroke="#111" stroke-width="2" stroke-linecap="butt"/>
<line x1="300.1" y1="434.8" x2="304.6" y2="434.8" stroke="#111" stroke-width="2" stroke-linecap="butt"/>
<text x="299.8" y="437.81" font-size="9.7" font-weight="bold" text-anchor="end">0.00</text>
<line x1="300.1" y1="411.78" x2="304.6" y2="411.78" stroke="#111" stroke-width="2" stroke-linecap="butt"/>
<text x="299.8" y="414.79" font-size="9.7" font-weight="bold" text-anchor="end">0.02</text>
<line x1="300.1" y1="388.76" x2="304.6" y2="388.76" stroke="#111" stroke-width="2" stroke-linecap="butt"/>
<text x="299.8" y="391.77" font-size="9.7" font-weight="bold" text-anchor="end">0.04</text>
<line x1="300.1" y1="365.74" x2="304.6" y2="365.74" stroke="#111" stroke-width="2" stroke-linecap="butt"/>
<text x="299.8" y="368.75" font-size="9.7" font-weight="bold" text-anchor="end">0.06</text>
<line x1="300.1" y1="342.72" x2="304.6" y2="342.72" stroke="#111" stroke-width="2" stroke-linecap="butt"/>
<text x="299.8" y="345.73" font-size="9.7" font-weight="bold" text-anchor="end">0.08</text>
<line x1="300.1" y1="319.7" x2="304.6" y2="319.7" stroke="#111" stroke-width="2" stroke-linecap="butt"/>
<text x="299.8" y="322.71" font-size="9.7" font-weight="bold" text-anchor="end">0.10</text>
<line x1="300.1" y1="296.68" x2="304.6" y2="296.68" stroke="#111" stroke-width="2" stroke-linecap="butt"/>
<text x="299.8" y="299.69" font-size="9.7" font-weight="bold" text-anchor="end">0.12</text>
<line x1="304.6" y1="434.8" x2="304.6" y2="439" stroke="#111" stroke-width="2" stroke-linecap="butt"/>
<text x="304.6" y="449.1" font-size="9.7" font-weight="bold" text-anchor="middle">0.0</text>
<line x1="321.64" y1="434.8" x2="321.64" y2="437.8" stroke="#111" stroke-width="2" stroke-linecap="butt"/>
<line x1="338.68" y1="434.8" x2="338.68" y2="439" stroke="#111" stroke-width="2" stroke-linecap="butt"/>
<text x="338.68" y="449.1" font-size="9.7" font-weight="bold" text-anchor="middle">0.5</text>
<line x1="355.72" y1="434.8" x2="355.72" y2="437.8" stroke="#111" stroke-width="2" stroke-linecap="butt"/>
<line x1="372.76" y1="434.8" x2="372.76" y2="439" stroke="#111" stroke-width="2" stroke-linecap="butt"/>
<text x="372.76" y="449.1" font-size="9.7" font-weight="bold" text-anchor="middle">1.0</text>
<line x1="389.8" y1="434.8" x2="389.8" y2="437.8" stroke="#111" stroke-width="2" stroke-linecap="butt"/>
<line x1="406.84" y1="434.8" x2="406.84" y2="439" stroke="#111" stroke-width="2" stroke-linecap="butt"/>
<text x="406.84" y="449.1" font-size="9.7" font-weight="bold" text-anchor="middle">1.5</text>
<line x1="423.88" y1="434.8" x2="423.88" y2="437.8" stroke="#111" stroke-width="2" stroke-linecap="butt"/>
<line x1="440.92" y1="434.8" x2="440.92" y2="439" stroke="#111" stroke-width="2" stroke-linecap="butt"/>
<text x="440.92" y="449.1" font-size="9.7" font-weight="bold" text-anchor="middle">2.0</text>
<line x1="457.96" y1="434.8" x2="457.96" y2="437.8" stroke="#111" stroke-width="2" stroke-linecap="butt"/>
<line x1="475" y1="434.8" x2="475" y2="439" stroke="#111" stroke-width="2" stroke-linecap="butt"/>
<text x="475" y="449.1" font-size="9.7" font-weight="bold" text-anchor="middle">2.5</text>
<line x1="492.04" y1="434.8" x2="492.04" y2="437.8" stroke="#111" stroke-width="2" stroke-linecap="butt"/>
<line x1="509.08" y1="434.8" x2="509.08" y2="439" stroke="#111" stroke-width="2" stroke-linecap="butt"/>
<text x="509.08" y="449.1" font-size="9.7" font-weight="bold" text-anchor="middle">3.0</text>
<text x="408.2" y="465.4" font-size="11" font-weight="bold" text-anchor="middle">Hours</text>
<text transform="translate(273.3,365.7) rotate(-90)" font-size="11.7" font-weight="bold" text-anchor="middle">NO [&#956;M]</text>
<text x="408" y="302.2" font-size="13.3" font-weight="bold" text-anchor="middle">TrHBMEC</text>
<line x1="321.64" y1="318.6" x2="321.64" y2="342.6" stroke="#111" stroke-width="1.5" stroke-linecap="butt"/>
<line x1="318.74" y1="318.6" x2="324.54" y2="318.6" stroke="#111" stroke-width="1.6" stroke-linecap="butt"/>
<line x1="318.74" y1="342.6" x2="324.54" y2="342.6" stroke="#111" stroke-width="1.6" stroke-linecap="butt"/>
<line x1="338.68" y1="317.7" x2="338.68" y2="339.2" stroke="#111" stroke-width="1.5" stroke-linecap="butt"/>
<line x1="335.78" y1="317.7" x2="341.58" y2="317.7" stroke="#111" stroke-width="1.6" stroke-linecap="butt"/>
<line x1="335.78" y1="339.2" x2="341.58" y2="339.2" stroke="#111" stroke-width="1.6" stroke-linecap="butt"/>
<line x1="372.76" y1="356.7" x2="372.76" y2="380.4" stroke="#111" stroke-width="1.5" stroke-linecap="butt"/>
<line x1="369.86" y1="356.7" x2="375.66" y2="356.7" stroke="#111" stroke-width="1.6" stroke-linecap="butt"/>
<line x1="369.86" y1="380.4" x2="375.66" y2="380.4" stroke="#111" stroke-width="1.6" stroke-linecap="butt"/>
<line x1="509.08" y1="368.6" x2="509.08" y2="389.7" stroke="#111" stroke-width="1.5" stroke-linecap="butt"/>
<line x1="506.18" y1="368.6" x2="511.98" y2="368.6" stroke="#111" stroke-width="1.6" stroke-linecap="butt"/>
<line x1="506.18" y1="389.7" x2="511.98" y2="389.7" stroke="#111" stroke-width="1.6" stroke-linecap="butt"/>
<line x1="321.64" y1="344.3" x2="321.64" y2="398" stroke="#9a9a9a" stroke-width="1.5" stroke-linecap="butt"/>
<line x1="318.74" y1="344.3" x2="324.54" y2="344.3" stroke="#9a9a9a" stroke-width="1.6" stroke-linecap="butt"/>
<line x1="318.74" y1="398" x2="324.54" y2="398" stroke="#9a9a9a" stroke-width="1.6" stroke-linecap="butt"/>
<line x1="338.68" y1="340.9" x2="338.68" y2="385" stroke="#9a9a9a" stroke-width="1.5" stroke-linecap="butt"/>
<line x1="335.78" y1="340.9" x2="341.58" y2="340.9" stroke="#9a9a9a" stroke-width="1.6" stroke-linecap="butt"/>
<line x1="335.78" y1="385" x2="341.58" y2="385" stroke="#9a9a9a" stroke-width="1.6" stroke-linecap="butt"/>
<line x1="372.76" y1="370" x2="372.76" y2="397.8" stroke="#9a9a9a" stroke-width="1.5" stroke-linecap="butt"/>
<line x1="369.86" y1="370" x2="375.66" y2="370" stroke="#9a9a9a" stroke-width="1.6" stroke-linecap="butt"/>
<line x1="369.86" y1="397.8" x2="375.66" y2="397.8" stroke="#9a9a9a" stroke-width="1.6" stroke-linecap="butt"/>
<line x1="509.08" y1="389.7" x2="509.08" y2="399" stroke="#9a9a9a" stroke-width="1.5" stroke-linecap="butt"/>
<line x1="506.18" y1="389.7" x2="511.98" y2="389.7" stroke="#9a9a9a" stroke-width="1.6" stroke-linecap="butt"/>
<line x1="506.18" y1="399" x2="511.98" y2="399" stroke="#9a9a9a" stroke-width="1.6" stroke-linecap="butt"/>
<line x1="338.68" y1="391.7" x2="338.68" y2="411.5" stroke="#111" stroke-width="1.5" stroke-linecap="butt"/>
<line x1="335.78" y1="391.7" x2="341.58" y2="391.7" stroke="#111" stroke-width="1.6" stroke-linecap="butt"/>
<line x1="335.78" y1="411.5" x2="341.58" y2="411.5" stroke="#111" stroke-width="1.6" stroke-linecap="butt"/>
<line x1="335.78" y1="414.9" x2="341.58" y2="414.9" stroke="#111" stroke-width="1.6" stroke-linecap="butt"/>
<line x1="338.68" y1="414.9" x2="338.68" y2="430.5" stroke="#555" stroke-width="1.5" stroke-linecap="butt"/>
<line x1="335.78" y1="414.9" x2="341.58" y2="414.9" stroke="#555" stroke-width="1.6" stroke-linecap="butt"/>
<line x1="335.78" y1="430.5" x2="341.58" y2="430.5" stroke="#555" stroke-width="1.6" stroke-linecap="butt"/>
<line x1="372.76" y1="397.8" x2="372.76" y2="426.1" stroke="#111" stroke-width="1.5" stroke-linecap="butt"/>
<line x1="369.86" y1="397.8" x2="375.66" y2="397.8" stroke="#111" stroke-width="1.6" stroke-linecap="butt"/>
<line x1="369.86" y1="426.1" x2="375.66" y2="426.1" stroke="#111" stroke-width="1.6" stroke-linecap="butt"/>
<line x1="369.86" y1="401.1" x2="375.66" y2="401.1" stroke="#9a9a9a" stroke-width="1.6" stroke-linecap="butt"/>
<line x1="369.86" y1="409" x2="375.66" y2="409" stroke="#9a9a9a" stroke-width="1.6" stroke-linecap="butt"/>
<line x1="369.86" y1="428.5" x2="375.66" y2="428.5" stroke="#555" stroke-width="1.6" stroke-linecap="butt"/>
<line x1="509.08" y1="399" x2="509.08" y2="412" stroke="#9a9a9a" stroke-width="1.3" stroke-linecap="butt"/>
<line x1="506.18" y1="401.4" x2="511.98" y2="401.4" stroke="#111" stroke-width="1.6" stroke-linecap="butt"/>
<line x1="509.08" y1="412" x2="509.08" y2="428.5" stroke="#111" stroke-width="1.5" stroke-linecap="butt"/>
<line x1="506.18" y1="412" x2="511.98" y2="412" stroke="#111" stroke-width="1.6" stroke-linecap="butt"/>
<line x1="506.18" y1="428.5" x2="511.98" y2="428.5" stroke="#111" stroke-width="1.6" stroke-linecap="butt"/>
<line x1="506.18" y1="425.6" x2="511.98" y2="425.6" stroke="#111" stroke-width="1.6" stroke-linecap="butt"/>
<line x1="321.64" y1="417.6" x2="321.64" y2="428" stroke="#111" stroke-width="1.5" stroke-linecap="butt"/>
<line x1="318.74" y1="417.6" x2="324.54" y2="417.6" stroke="#111" stroke-width="1.6" stroke-linecap="butt"/>
<line x1="318.74" y1="428" x2="324.54" y2="428" stroke="#111" stroke-width="1.6" stroke-linecap="butt"/>
<line x1="301.7" y1="411.4" x2="307.5" y2="411.4" stroke="#111" stroke-width="1.6" stroke-linecap="butt"/>
<line x1="301.7" y1="413.9" x2="307.5" y2="413.9" stroke="#111" stroke-width="1.6" stroke-linecap="butt"/>
<line x1="305.71" y1="422.44" x2="321.64" y2="428.8" stroke="#9a9a9a" stroke-width="2" stroke-linecap="butt" stroke-dasharray="7 3"/>
<line x1="322.61" y1="428.1" x2="338.68" y2="416.5" stroke="#9a9a9a" stroke-width="2" stroke-linecap="butt" stroke-dasharray="7 3"/>
<line x1="339.88" y1="416.48" x2="372.76" y2="415.9" stroke="#9a9a9a" stroke-width="2" stroke-linecap="butt" stroke-dasharray="7 3"/>
<line x1="373.96" y1="415.8" x2="509.08" y2="404.1" stroke="#9a9a9a" stroke-width="2" stroke-linecap="butt" stroke-dasharray="7 3"/>
<polyline points="304.6,418 321.64,372.4 338.68,364.1 372.76,386.5 509.08,394.6" fill="none" stroke="#9a9a9a" stroke-width="2" stroke-linejoin="miter"/>
<line x1="304.84" y1="412.82" x2="321.64" y2="329.7" stroke="#111" stroke-width="2" stroke-linecap="butt" stroke-dasharray="7 3"/>
<line x1="322.83" y1="329.56" x2="338.68" y2="327.7" stroke="#111" stroke-width="2" stroke-linecap="butt" stroke-dasharray="7 3"/>
<line x1="339.45" y1="328.62" x2="372.76" y2="368" stroke="#111" stroke-width="2" stroke-linecap="butt" stroke-dasharray="7 3"/>
<line x1="373.96" y1="368.09" x2="509.08" y2="378.4" stroke="#111" stroke-width="2" stroke-linecap="butt" stroke-dasharray="7 3"/>
<line x1="307.98" y1="421.36" x2="318.66" y2="422.48" stroke="#111" stroke-width="2" stroke-linecap="butt" stroke-dasharray="3.5 2.6"/>
<line x1="325.01" y1="422.38" x2="335.7" y2="421.07" stroke="#111" stroke-width="2" stroke-linecap="butt" stroke-dasharray="3.5 2.6"/>
<line x1="342.08" y1="420.7" x2="369.76" y2="420.7" stroke="#111" stroke-width="2" stroke-linecap="butt" stroke-dasharray="3.5 2.6"/>
<line x1="376.16" y1="420.61" x2="506.08" y2="417.28" stroke="#111" stroke-width="2" stroke-linecap="butt" stroke-dasharray="3.5 2.6"/>
<polyline points="304.6,420.2 321.64,424.5 338.68,403.2 372.76,419.8 509.08,423.4" fill="none" stroke="#111" stroke-width="2" stroke-linejoin="miter"/>
<circle cx="304.6" cy="422" r="2.8" fill="#111"/>
<circle cx="321.64" cy="428.8" r="2.8" fill="#111"/>
<circle cx="338.68" cy="416.5" r="2.8" fill="#111"/>
<circle cx="372.76" cy="415.9" r="2.8" fill="#111"/>
<circle cx="509.08" cy="404.1" r="2.8" fill="#111"/>
<polygon points="304.6,415.2 307.4,420.2 301.8,420.2" fill="#111"/>
<polygon points="321.64,369.6 324.44,374.6 318.84,374.6" fill="#111"/>
<polygon points="338.68,361.3 341.48,366.3 335.88,366.3" fill="#111"/>
<polygon points="372.76,383.7 375.56,388.7 369.96,388.7" fill="#111"/>
<polygon points="509.08,391.8 511.88,396.8 506.28,396.8" fill="#111"/>
<polygon points="304.6,416.4 307.6,411 301.6,411" fill="#111"/>
<polygon points="321.64,332.1 324.64,326.7 318.64,326.7" fill="#111"/>
<polygon points="338.68,330.1 341.68,324.7 335.68,324.7" fill="#111"/>
<polygon points="372.76,370.4 375.76,365 369.76,365" fill="#111"/>
<polygon points="509.08,380.8 512.08,375.4 506.08,375.4" fill="#111"/>
<rect x="302.1" y="418.5" width="5" height="5" fill="#111"/>
<rect x="319.14" y="420.3" width="5" height="5" fill="#111"/>
<rect x="336.18" y="418.2" width="5" height="5" fill="#111"/>
<rect x="370.26" y="418.2" width="5" height="5" fill="#111"/>
<rect x="506.58" y="414.7" width="5" height="5" fill="#111"/>
<polygon points="304.6,417.45 306.8,420.2 304.6,422.95 302.4,420.2" fill="#111"/>
<polygon points="321.64,421.75 323.84,424.5 321.64,427.25 319.44,424.5" fill="#111"/>
<polygon points="338.68,400.45 340.88,403.2 338.68,405.95 336.48,403.2" fill="#111"/>
<polygon points="372.76,417.05 374.96,419.8 372.76,422.55 370.56,419.8" fill="#111"/>
<polygon points="509.08,420.65 511.28,423.4 509.08,426.15 506.88,423.4" fill="#111"/>
<text x="1" y="18.4" font-size="24" font-weight="bold" text-anchor="start">A</text>
<text x="264.8" y="18.4" font-size="24" font-weight="bold" text-anchor="start">C</text>
<text x="0.5" y="284.2" font-size="24" font-weight="bold" text-anchor="start">B</text>
<text x="263.1" y="283.6" font-size="24" font-weight="bold" text-anchor="start">D</text>
<line x1="95.4" y1="218.8" x2="115.6" y2="218.8" stroke="#111" stroke-width="2" stroke-linecap="butt" stroke-dasharray="3.5 2.6"/>
<rect x="103" y="216.3" width="5" height="5" fill="#111"/>
<text class="r" x="119.4" y="222.7" font-size="11.2" font-weight="normal" text-anchor="start">Control</text>
<line x1="95.4" y1="233" x2="115.6" y2="233" stroke="#9a9a9a" stroke-width="2" stroke-linecap="butt"/>
<polygon points="105.5,230.2 108.3,235.2 102.7,235.2" fill="#111"/>
<text class="r" x="119.4" y="236.9" font-size="11.05" font-weight="normal" text-anchor="start">10&#956;M Hydroxyurea</text>
<line x1="95.4" y1="249.3" x2="115.6" y2="249.3" stroke="#111" stroke-width="2" stroke-linecap="butt"/>
<polygon points="105.5,252.1 108.3,247.1 102.7,247.1" fill="#111"/>
<text class="r" x="119.4" y="253.2" font-size="11.05" font-weight="normal" text-anchor="start">20&#956;M Hydroxyurea</text>
<line x1="357.7" y1="212.4" x2="378.6" y2="212.4" stroke="#111" stroke-width="2" stroke-linecap="butt" stroke-dasharray="3.5 2.6"/>
<rect x="365.65" y="209.9" width="5" height="5" fill="#111"/>
<text class="r" x="381.2" y="216.3" font-size="11.3" font-weight="normal" text-anchor="start">Control</text>
<line x1="357.7" y1="228.6" x2="378.6" y2="228.6" stroke="#9a9a9a" stroke-width="2" stroke-linecap="butt"/>
<polygon points="368.15,225.8 370.95,230.8 365.35,230.8" fill="#111"/>
<text class="r" x="381.2" y="232.5" font-size="11.3" font-weight="normal" text-anchor="start">0.5mM Butyric acid</text>
<line x1="357.7" y1="244.8" x2="378.6" y2="244.8" stroke="#111" stroke-width="2" stroke-linecap="butt" stroke-dasharray="7 3"/>
<polygon points="368.15,247.6 370.95,242.6 365.35,242.6" fill="#111"/>
<text class="r" x="381.2" y="248.7" font-size="11.3" font-weight="normal" text-anchor="start">1mM Butyric acid</text>
<line x1="357.7" y1="261.4" x2="378.6" y2="261.4" stroke="#111" stroke-width="2" stroke-linecap="butt"/>
<polygon points="368.15,258.9 370.15,261.4 368.15,263.9 366.15,261.4" fill="#111"/>
<text class="r" x="381.2" y="265.3" font-size="11.3" font-weight="normal" text-anchor="start">10&#956;M 5-azacytidine</text>
<line x1="357.7" y1="277.9" x2="378.6" y2="277.9" stroke="#9a9a9a" stroke-width="2" stroke-linecap="butt" stroke-dasharray="7 3"/>
<circle cx="368.15" cy="277.9" r="2.8" fill="#111"/>
<text class="r" x="381.2" y="281.8" font-size="11.3" font-weight="normal" text-anchor="start">20&#956;M 5-azacytidine</text>
</svg>
</body></html>
